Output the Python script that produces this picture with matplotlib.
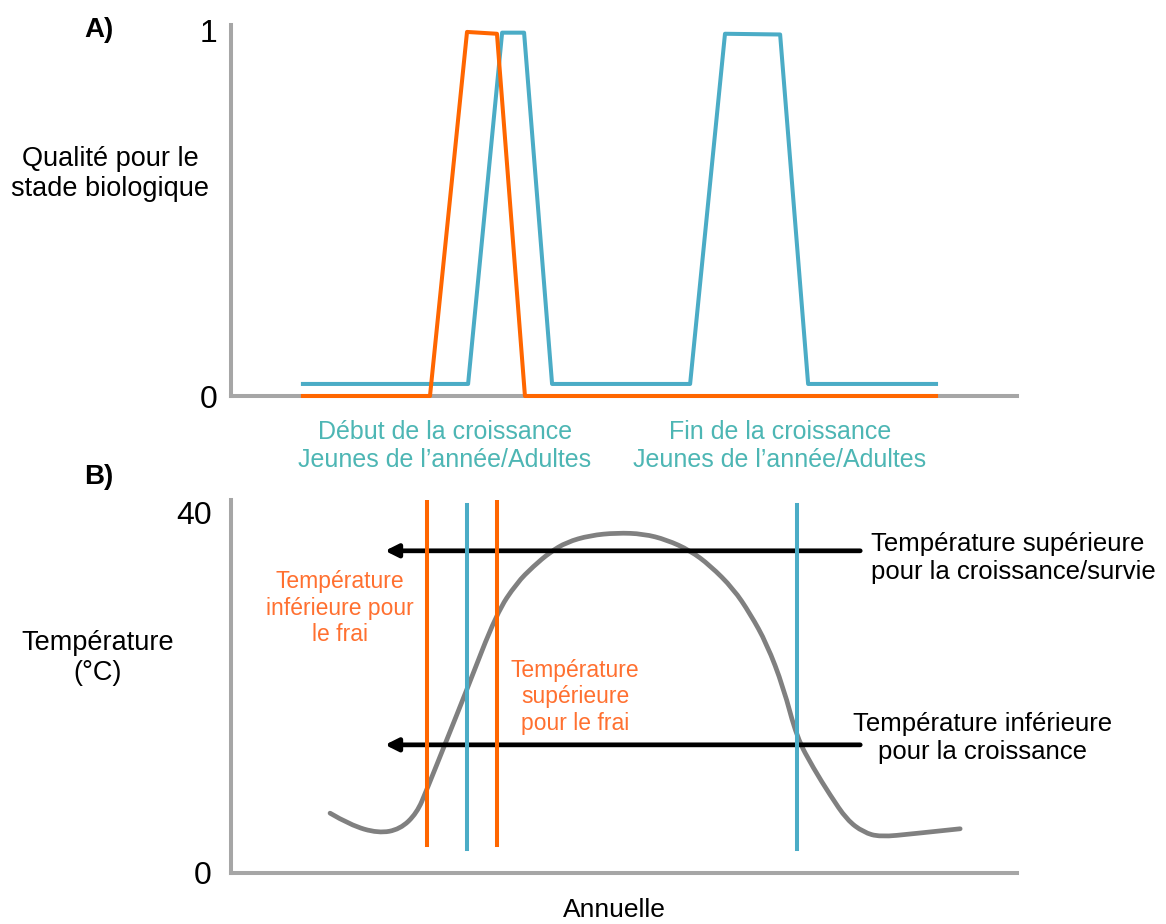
import numpy as np
import matplotlib
matplotlib.use('Agg')
import matplotlib.pyplot as plt
from matplotlib.path import Path
from matplotlib.patches import PathPatch

plt.rcParams['font.family'] = ['Liberation Sans', 'DejaVu Sans']

# ---- data (x in days of the year) ----
# A) quality for the biological stage
blue_x = [33.4, 110.1, 125.9, 136.1, 149.1, 213.2, 229.4, 255.0, 268.0, 327.4]
blue_y = [0.033, 0.033, 0.995, 0.995, 0.033, 0.033, 0.992, 0.990, 0.033, 0.033]
orange_x = [33.4, 92.4, 109.6, 123.5, 136.5, 327.4]
orange_y = [0.0, 0.0, 0.997, 0.992, 0.0, 0.0]

# B) annual temperature (°C)
temp_day = [46.0, 55.3, 68.4, 78.5, 86.3, 90.9, 100.2, 109.5, 123.4, 132.7,
            140.4, 148.2, 155.9, 166.7, 179.1, 191.5, 202.3, 213.2, 222.5,
            233.3, 241.1, 248.8, 256.5, 262.8, 270.5, 278.2, 286.0, 293.7,
            301.4, 316.9, 338.6]
temp_val = [6.63, 5.32, 4.40, 4.84, 6.63, 9.22, 14.76, 20.30, 28.81, 32.14,
            33.98, 35.55, 36.66, 37.40, 37.69, 37.58, 36.92, 35.73, 34.07,
            31.49, 28.72, 25.40, 20.59, 14.98, 11.60, 8.64, 5.89, 4.51,
            3.99, 4.35, 4.90]
orange_vlines = [91.0, 123.5]
blue_vlines = [109.6, 262.7]
thresholds = [35.7, 14.2]      # upper / lower growth temperature
arrow_from, arrow_to = 292.2, 71.5

ORANGE = '#FF6600'
BLUE = '#4BACC6'
TEAL_TXT = '#4DB6B4'
ORANGE_TXT = '#FF7030'
AXGRAY = '#A6A6A6'

W, H = 1166, 924
fig = plt.figure(figsize=(W / 100, H / 100), dpi=100)


def px(x, y):
    return x / W, 1 - y / H


def style_axes(ax):
    for s in ['top', 'right']:
        ax.spines[s].set_visible(False)
    for s in ['left', 'bottom']:
        ax.spines[s].set_color(AXGRAY)
        ax.spines[s].set_linewidth(2.9)
    ax.set_xticks([])
    ax.tick_params(axis='y', length=0, labelsize=23, pad=10)
    ax.set_xlim(0, 365)


def smooth_path(xs, ys):
    # quadratic curves through the midpoints, read points act as control points
    pts = np.column_stack([xs, ys])
    verts = [pts[0]]
    codes = [Path.MOVETO]
    for i in range(1, len(pts) - 1):
        mid = (pts[i] + pts[i + 1]) / 2
        if i == len(pts) - 2:
            mid = pts[i + 1]
        verts += [pts[i], mid]
        codes += [Path.CURVE3, Path.CURVE3]
    return Path(verts, codes)


# ---- panel A ----
axA = fig.add_axes([231 / W, 1 - 396 / H, 786 / W, 371 / H])
style_axes(axA)
axA.set_ylim(0, 1.016)
axA.set_yticks([0, 1])
axA.set_yticklabels(['0', '1'])
axA.plot(blue_x, blue_y, color=BLUE, lw=2.9, clip_on=False, zorder=3)
axA.plot(orange_x, orange_y, color=ORANGE, lw=2.9, clip_on=False, zorder=4)

# ---- panel B ----
axB = fig.add_axes([231 / W, 1 - 873 / H, 786 / W, 373 / H])
style_axes(axB)
axB.set_ylim(0, 41.33)
axB.set_yticks([0, 40])
axB.set_yticklabels(['0', '40'])
axB.tick_params(axis='y', pad=14)
axB.add_patch(PathPatch(smooth_path(temp_day, temp_val), facecolor='none',
                        edgecolor='#808080', lw=3.4, capstyle='round',
                        joinstyle='round', zorder=2))
for t in thresholds:
    axB.annotate('', xy=(arrow_to, t), xytext=(arrow_from, t),
                 arrowprops=dict(arrowstyle='-|>', lw=3.4, color='black',
                                 mutation_scale=19, shrinkA=0, shrinkB=0),
                 zorder=3)
for v in orange_vlines:
    axB.plot([v, v], [3.1, 41.2], color=ORANGE, lw=2.9, zorder=4)
for v in blue_vlines:
    axB.plot([v, v], [2.66, 40.8], color=BLUE, lw=2.9, zorder=4)

# ---- texts ----
fig.text(*px(99, 30), 'A)', fontsize=20, fontweight='bold', ha='center', va='center')
fig.text(*px(99, 477), 'B)', fontsize=20, fontweight='bold', ha='center', va='center')
fig.text(*px(110, 174), 'Qualité pour le\nstade biologique', fontsize=19.5,
         ha='center', va='center', linespacing=1.25)
fig.text(*px(98, 658), 'Température\n(°C)', fontsize=19.5,
         ha='center', va='center', linespacing=1.25)
fig.text(*px(445, 446), 'Début de la croissance\nJeunes de l\u2019année/Adultes',
         fontsize=18, color=TEAL_TXT, ha='center', va='center', linespacing=1.2)
fig.text(*px(780, 446), 'Fin de la croissance\nJeunes de l\u2019année/Adultes',
         fontsize=18, color=TEAL_TXT, ha='center', va='center', linespacing=1.2)
fig.text(*px(340, 608), 'Température\ninférieure pour\nle frai', fontsize=16.5,
         color=ORANGE_TXT, ha='center', va='center', linespacing=1.2)
fig.text(*px(575, 697), 'Température\nsupérieure\npour le frai', fontsize=16.5,
         color=ORANGE_TXT, ha='center', va='center', linespacing=1.2)
fig.text(*px(871, 558), 'Température supérieure\npour la croissance/survie',
         fontsize=18.5, ha='left', va='center', linespacing=1.2)
fig.text(*px(983, 738), 'Température inférieure\npour la croissance',
         fontsize=18.5, ha='center', va='center', linespacing=1.2)
fig.text(*px(614, 910), 'Annuelle', fontsize=19, ha='center', va='center')

fig.savefig('out.png', dpi=100, facecolor='white')
